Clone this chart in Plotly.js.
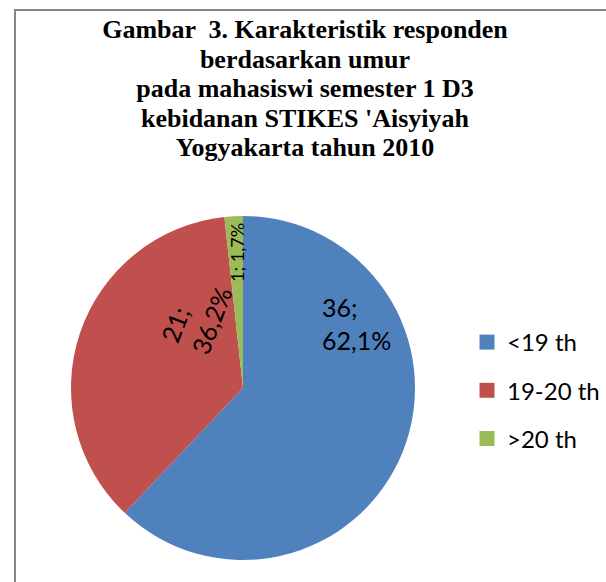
<!DOCTYPE html>
<html>
<head>
<meta charset="utf-8">
<script src="https://cdn.plot.ly/plotly-3.0.1.min.js"></script>
<style>html,body{margin:0;padding:0;background:#fff;}#chart{width:606px;height:582px;}</style>
</head>
<body>
<div id="chart"></div>
<script>
const categories = ['<19 th', '19-20 th', '>20 th'];
const counts = [36, 21, 1];
const sliceColors = ['#4F81BD', '#C0504D', '#9BBB59'];
const titleLines = [
  'Gambar  3. Karakteristik responden',
  'berdasarkan umur',
  'pada mahasiswi semester 1 D3',
  'kebidanan STIKES \'Aisyiyah',
  'Yogyakarta tahun 2010'
];

const W = 606, H = 582;
const total = counts.reduce((a, b) => a + b, 0);
const labelText = counts.map(v => v + ';<br>' + (v / total * 100).toFixed(1).replace('.', ',') + '%');

// pie geometry (pixels)
const cx = 243, cy = 388, R = 172;
const px = x => x / W, py = y => 1 - y / H;

const traces = [{
  type: 'pie',
  labels: categories,
  values: counts,
  sort: false,
  direction: 'clockwise',
  rotation: 0,
  marker: {colors: sliceColors, line: {width: 0}},
  textinfo: 'none',
  hoverinfo: 'label+value+percent',
  showlegend: false,
  domain: {x: [px(cx - R), px(cx + R)], y: [py(cy + R), py(cy - R)]}
}];
categories.forEach((c, i) => {
  traces.push({
    type: 'scatter', mode: 'markers', x: [null], y: [null],
    name: c, legendgroup: 'g' + i,
    marker: {symbol: 'square', size: 15, color: sliceColors[i]},
    hoverinfo: 'skip'
  });
});

const labelFont = {family: 'Lato, Calibri, sans-serif', size: 25, color: '#000'};
const annotations = [
  {x: px(356), y: py(323), text: labelText[0], textangle: 0, font: labelFont},
  {x: px(196), y: py(314), text: labelText[1], textangle: -69, font: labelFont},
  {x: px(237), y: py(253), text: labelText[2].replace('<br>', ' '), textangle: -90,
   font: Object.assign({}, labelFont, {size: 18})}
].map(a => Object.assign({xref: 'paper', yref: 'paper', showarrow: false,
  xanchor: 'center', yanchor: 'middle', align: 'left'}, a));

const titleText = titleLines.map(l => '<span style="font-size:26px">' + l + '</span>').join('<br>');

const layout = {
  width: W, height: H,
  margin: {l: 0, r: 0, t: 0, b: 0},
  paper_bgcolor: '#fff', plot_bgcolor: 'rgba(0,0,0,0)',
  xaxis: {visible: false, range: [0, 1], fixedrange: true},
  yaxis: {visible: false, range: [0, 1], fixedrange: true},
  title: {
    text: '<b>' + titleText + '</b>',
    font: {family: '"Liberation Serif", "Times New Roman", serif', size: 22.7, color: '#000'},
    x: px(305), xanchor: 'center', y: py(38), yanchor: 'top', yref: 'container'
  },
  legend: {
    x: px(467), xanchor: 'left', y: py(320), yanchor: 'top',
    font: {family: 'Lato, Calibri, sans-serif', size: 24, color: '#000'},
    traceorder: 'grouped', tracegroupgap: 14, bgcolor: 'rgba(0,0,0,0)', borderwidth: 0
  },
  showlegend: true,
  annotations: annotations,
  shapes: [{
    type: 'rect', xref: 'paper', yref: 'paper',
    x0: px(15), x1: 1.2, y0: -0.2, y1: py(10),
    line: {color: '#868686', width: 2}, fillcolor: 'rgba(0,0,0,0)', layer: 'below'
  }]
};

Plotly.newPlot('chart', traces, layout, {displayModeBar: false, staticPlot: true});
</script>
</body>
</html>
